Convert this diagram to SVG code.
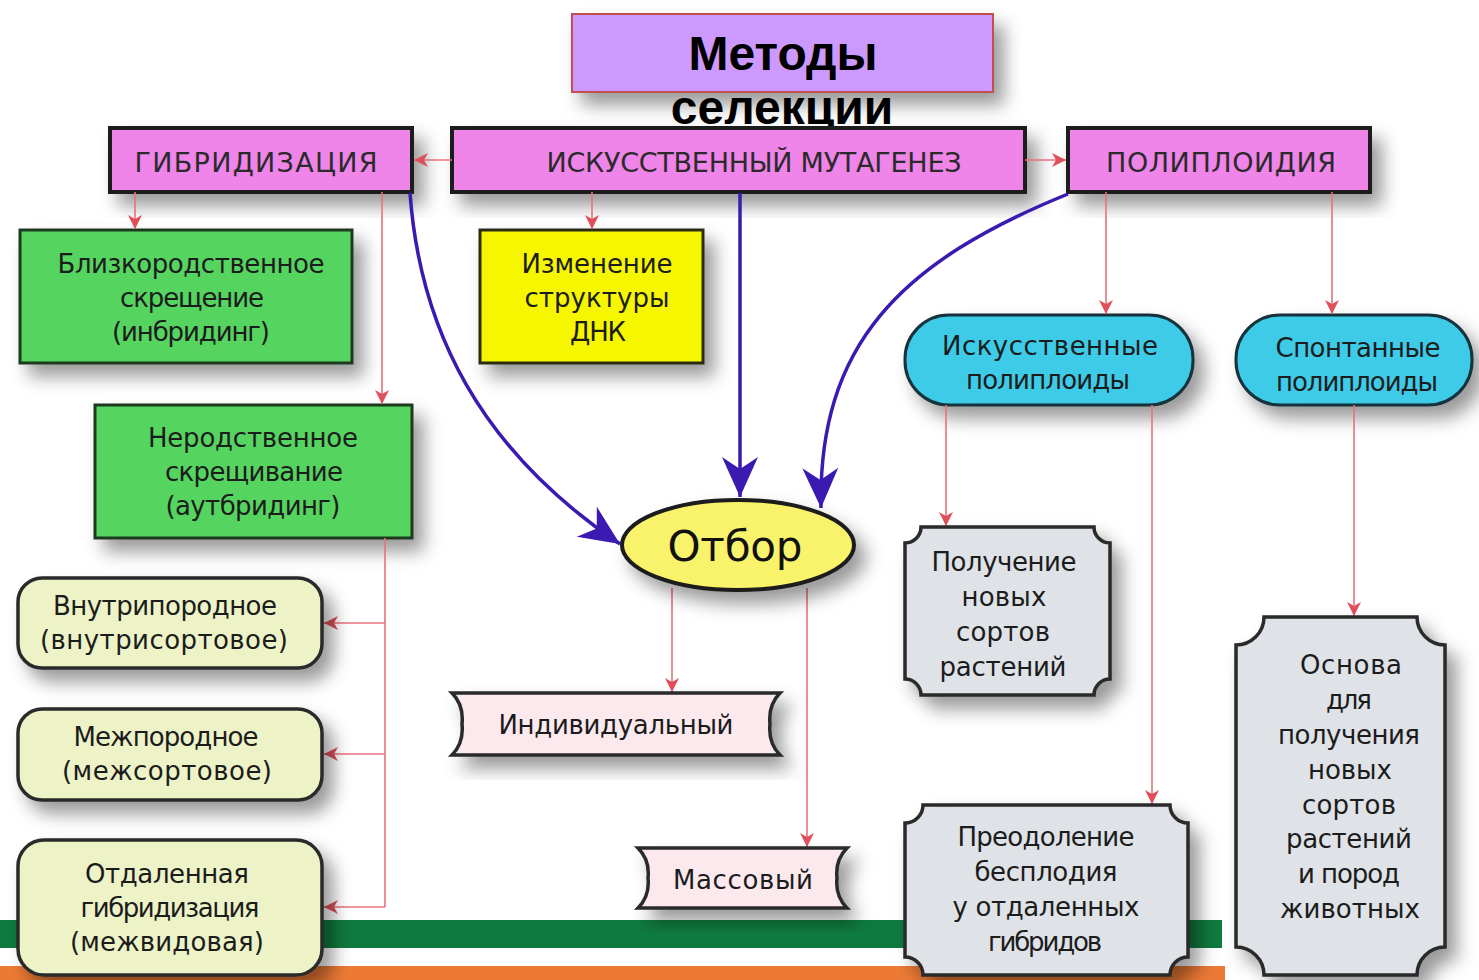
<svg xmlns="http://www.w3.org/2000/svg" width="1479" height="980" viewBox="0 0 1479 980">
<defs>
<style>
.t{font-family:"DejaVu Sans",Verdana,sans-serif;font-size:26px;fill:#1c1c1c;text-anchor:middle}
.cap{font-family:"DejaVu Sans",Verdana,sans-serif;font-size:27px;fill:#2a2a2a;text-anchor:middle}
.bar{fill:#ef84e9;stroke:#1a1a1a;stroke-width:4}
.grn{fill:#55d460;stroke:#1e3a1e;stroke-width:3}
.yel{fill:#f6f600;stroke:#2a2a10;stroke-width:3}
.cyan{fill:#3ccbe8;stroke:#14323a;stroke-width:3}
.lg{fill:#edf3c6;stroke:#2a2a2a;stroke-width:3.5}
.rib{fill:#fbe9ee;stroke:#2a2a2a;stroke-width:3.5}
.gry{fill:#dfe2e6;stroke:#2a2a2a;stroke-width:3.5}
.red{fill:none;stroke:#e8727c;stroke-width:1.6;marker-end:url(#rh)}
.redn{fill:none;stroke:#e8727c;stroke-width:1.6}
.blue{fill:none;stroke:#3a1ab0;stroke-width:3.5;marker-end:url(#bh)}
</style>
<filter id="sh" x="-20%" y="-20%" width="150%" height="160%">
<feDropShadow dx="10" dy="12" stdDeviation="9" flood-color="#000" flood-opacity="0.4"/>
</filter>
<marker id="rh" markerUnits="userSpaceOnUse" viewBox="-16 -8 17 16" refX="0" refY="0" markerWidth="17" markerHeight="16" orient="auto">
<path d="M0,0 L-14,-7 L-10,0 L-14,7 Z" fill="#e0505c"/>
</marker>
<marker id="bh" markerUnits="userSpaceOnUse" viewBox="-42 -20 43 40" refX="0" refY="0" markerWidth="43" markerHeight="40" orient="auto">
<path d="M0,0 L-40,-18 L-28,0 L-40,18 Z" fill="#3a1ab0"/>
</marker>
</defs>

<rect width="1479" height="980" fill="#ffffff"/>
<g id="stripes">
<rect x="0" y="920" width="1222" height="28" fill="#0f7a3d"/>
<rect x="0" y="966" width="1225" height="14" fill="#ec7a35"/>
</g>

<g id="title">
<rect x="572" y="14" width="421" height="78" fill="#cc99ff" stroke="#c0504d" stroke-width="2" filter="url(#sh)"/>
<text x="783" y="70" font-family="Liberation Sans,Arial,sans-serif" font-size="48" font-weight="bold" text-anchor="middle" fill="#000">Методы</text>
<text x="782" y="124" font-family="Liberation Sans,Arial,sans-serif" font-size="48" font-weight="bold" text-anchor="middle" fill="#000">селекции</text>
</g>

<g id="n-gibrid">
<rect class="bar" x="110" y="128" width="302" height="64" filter="url(#sh)"/>
<text class="cap" x="256" y="172" textLength="243" lengthAdjust="spacing">ГИБРИДИЗАЦИЯ</text>
</g>
<g id="n-mutagenez">
<rect class="bar" x="452" y="128" width="573" height="64" filter="url(#sh)"/>
<text class="cap" x="754" y="172" textLength="415" lengthAdjust="spacing">ИСКУССТВЕННЫЙ МУТАГЕНЕЗ</text>
</g>
<g id="n-poliploid">
<rect class="bar" x="1068" y="128" width="302" height="64" filter="url(#sh)"/>
<text class="cap" x="1221" y="172" textLength="230" lengthAdjust="spacing">ПОЛИПЛОИДИЯ</text>
</g>

<g id="n-inbr">
<rect class="grn" x="20" y="230" width="332" height="133" filter="url(#sh)"/>
<text class="t" x="191" y="273" textLength="267" lengthAdjust="spacing">Близкородственное</text>
<text class="t" x="192" y="307" textLength="144" lengthAdjust="spacing">скрещение</text>
<text class="t" x="191" y="341" textLength="158" lengthAdjust="spacing">(инбридинг)</text>
</g>
<g id="n-autbr">
<rect class="grn" x="95" y="405" width="317" height="133" filter="url(#sh)"/>
<text class="t" x="253" y="447" textLength="210" lengthAdjust="spacing">Неродственное</text>
<text class="t" x="254" y="481" textLength="178" lengthAdjust="spacing">скрещивание</text>
<text class="t" x="253" y="515" textLength="175" lengthAdjust="spacing">(аутбридинг)</text>
</g>
<g id="n-dnk">
<rect class="yel" x="480" y="230" width="223" height="133" filter="url(#sh)"/>
<text class="t" x="597" y="273" textLength="151" lengthAdjust="spacing">Изменение</text>
<text class="t" x="597" y="307" textLength="145" lengthAdjust="spacing">структуры</text>
<text class="t" x="598" y="341" textLength="56" lengthAdjust="spacing">ДНК</text>
</g>
<g id="n-iskpol">
<rect class="cyan" x="905" y="315" width="288" height="90" rx="44" filter="url(#sh)"/>
<text class="t" x="1050" y="355" textLength="216" lengthAdjust="spacing">Искусственные</text>
<text class="t" x="1048" y="389" textLength="164" lengthAdjust="spacing">полиплоиды</text>
</g>
<g id="n-spontpol">
<rect class="cyan" x="1236" y="315" width="236" height="90" rx="44" filter="url(#sh)"/>
<text class="t" x="1358" y="357" textLength="165" lengthAdjust="spacing">Спонтанные</text>
<text class="t" x="1357" y="391" textLength="162" lengthAdjust="spacing">полиплоиды</text>
</g>

<g id="connectors">
<path class="red" d="M452,160 L414,160"/>
<path class="red" d="M1025,160 L1066,160"/>
<path class="red" d="M135,192 L135,229"/>
<path class="red" d="M382,192 L382,404"/>
<path class="red" d="M592,192 L592,229"/>
<path class="red" d="M1106,192 L1106,314"/>
<path class="red" d="M1332,192 L1332,314"/>
<path class="redn" d="M385,538 L385,907"/>
<path class="red" d="M385,623 L324,623"/>
<path class="red" d="M385,754 L324,754"/>
<path class="red" d="M385,907 L324,907"/>
<path class="red" d="M672,588 L672,692"/>
<path class="red" d="M807,588 L807,847"/>
<path class="red" d="M946,405 L946,526"/>
<path class="red" d="M1152,405 L1152,804"/>
<path class="red" d="M1354,405 L1354,616"/>
<path class="blue" d="M410,193 C420,330 480,450 620,544"/>
<path class="blue" d="M740,193 L740,497"/>
<path class="blue" d="M1068,194 C900,262 818,345 821,508"/>
</g>

<g id="n-otbor">
<ellipse cx="738" cy="545" rx="116" ry="45" fill="#f8f36a" stroke="#1a1a1a" stroke-width="4" filter="url(#sh)"/>
<text x="735" y="561" font-family="DejaVu Sans,Verdana,sans-serif" font-size="42" text-anchor="middle" fill="#111" textLength="135" lengthAdjust="spacing">Отбор</text>
</g>

<g id="n-vnutr">
<rect class="lg" x="18" y="578" width="304" height="90" rx="24" filter="url(#sh)"/>
<text class="t" x="165" y="615" textLength="224" lengthAdjust="spacing">Внутрипородное</text>
<text class="t" x="164" y="649" textLength="248" lengthAdjust="spacing">(внутрисортовое)</text>
</g>
<g id="n-mezhp">
<rect class="lg" x="18" y="709" width="304" height="91" rx="24" filter="url(#sh)"/>
<text class="t" x="166" y="746" textLength="185" lengthAdjust="spacing">Межпородное</text>
<text class="t" x="167" y="780" textLength="210" lengthAdjust="spacing">(межсортовое)</text>
</g>
<g id="n-otdal">
<rect class="lg" x="18" y="840" width="304" height="135" rx="26" filter="url(#sh)"/>
<text class="t" x="167" y="883" textLength="164" lengthAdjust="spacing">Отдаленная</text>
<text class="t" x="170" y="917" textLength="179" lengthAdjust="spacing">гибридизация</text>
<text class="t" x="167" y="951" textLength="194" lengthAdjust="spacing">(межвидовая)</text>
</g>

<g id="n-indiv">
<path class="rib" d="M452,693 L780,693 Q768,705 770,724 Q768,743 780,755 L452,755 Q464,743 462,724 Q464,705 452,693 Z" filter="url(#sh)"/>
<text class="t" x="616" y="734" textLength="235" lengthAdjust="spacing">Индивидуальный</text>
</g>
<g id="n-mass">
<path class="rib" d="M638,848 L847,848 Q835,860 837,878 Q835,896 847,908 L638,908 Q650,896 648,878 Q650,860 638,848 Z" filter="url(#sh)"/>
<text class="t" x="743" y="889" textLength="140" lengthAdjust="spacing">Массовый</text>
</g>

<g id="n-poluch">
<path class="gry" d="M921,527 L1094,527 A16,16 0 0 0 1110,543 L1110,679 A16,16 0 0 0 1094,695 L921,695 A16,16 0 0 0 905,679 L905,543 A16,16 0 0 0 921,527 Z" filter="url(#sh)"/>
<text class="t" x="1004" y="571" textLength="145" lengthAdjust="spacing">Получение</text>
<text class="t" x="1004" y="606" textLength="85" lengthAdjust="spacing">новых</text>
<text class="t" x="1003" y="641" textLength="94" lengthAdjust="spacing">сортов</text>
<text class="t" x="1003" y="676" textLength="127" lengthAdjust="spacing">растений</text>
</g>
<g id="n-preod">
<path class="gry" d="M923,805 L1170,805 A18,18 0 0 0 1188,823 L1188,957 A18,18 0 0 0 1170,975 L923,975 A18,18 0 0 0 905,957 L905,823 A18,18 0 0 0 923,805 Z" filter="url(#sh)"/>
<text class="t" x="1046" y="846" textLength="177" lengthAdjust="spacing">Преодоление</text>
<text class="t" x="1046" y="881" textLength="143" lengthAdjust="spacing">бесплодия</text>
<text class="t" x="1046" y="916" textLength="187" lengthAdjust="spacing">у отдаленных</text>
<text class="t" x="1045" y="951" textLength="114" lengthAdjust="spacing">гибридов</text>
</g>
<g id="n-osnova">
<path class="gry" d="M1264,617 L1417,617 A28,28 0 0 0 1445,645 L1445,947 A28,28 0 0 0 1417,975 L1264,975 A28,28 0 0 0 1236,947 L1236,645 A28,28 0 0 0 1264,617 Z" filter="url(#sh)"/>
<text class="t" x="1351" y="674" textLength="102" lengthAdjust="spacing">Основа</text>
<text class="t" x="1349" y="709" textLength="46" lengthAdjust="spacing">для</text>
<text class="t" x="1349" y="744" textLength="142" lengthAdjust="spacing">получения</text>
<text class="t" x="1350" y="779" textLength="84" lengthAdjust="spacing">новых</text>
<text class="t" x="1349" y="814" textLength="94" lengthAdjust="spacing">сортов</text>
<text class="t" x="1349" y="848" textLength="126" lengthAdjust="spacing">растений</text>
<text class="t" x="1349" y="883" textLength="102" lengthAdjust="spacing">и пород</text>
<text class="t" x="1350" y="918" textLength="140" lengthAdjust="spacing">животных</text>
</g>
</svg>
